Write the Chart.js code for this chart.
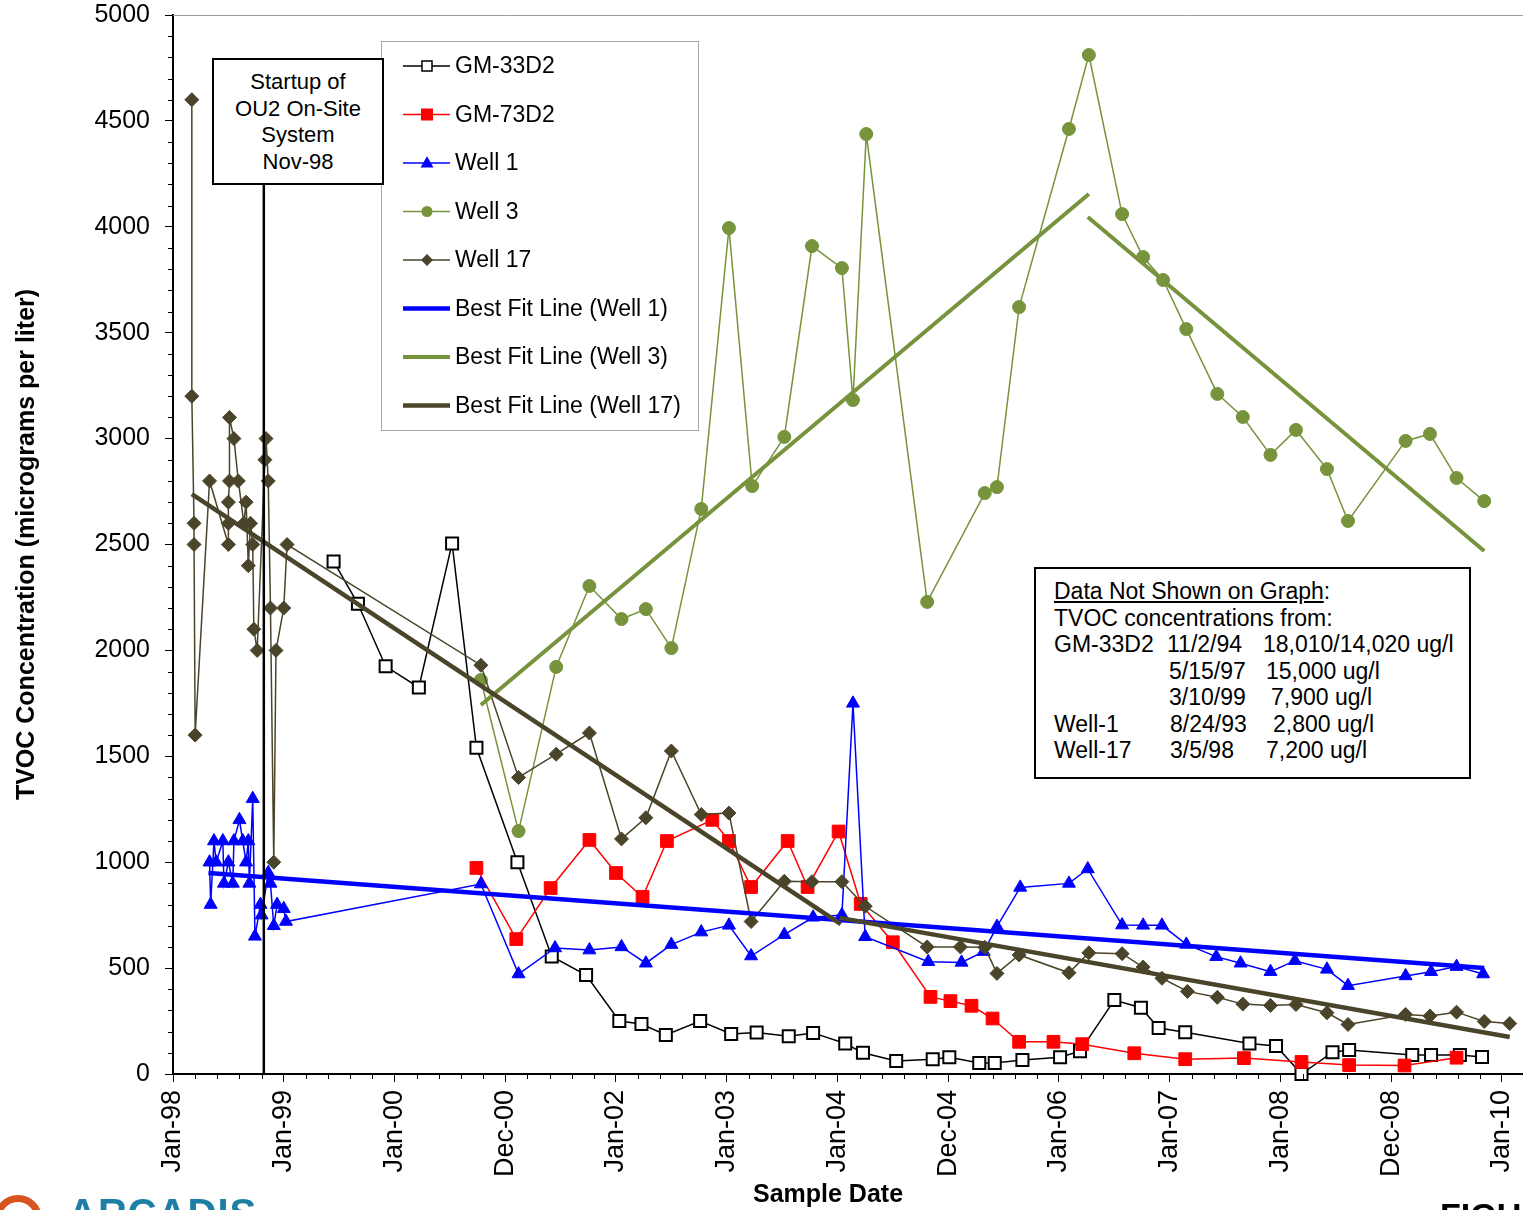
<!DOCTYPE html>
<html>
<head>
<meta charset="utf-8">
<title>TVOC Concentration vs Sample Date</title>
<script src="https://cdn.jsdelivr.net/npm/chart.js@4.4.1/dist/chart.umd.min.js"></script>
<style>
  html, body { margin: 0; padding: 0; background: #fff; overflow: hidden; }
  #wrap { position: relative; width: 1523px; height: 1210px; overflow: hidden; font-family: "Liberation Sans", Arial, sans-serif; color: #000; }
  #chart { position: absolute; left: 0; top: 0; }
  .note { position: absolute; background: #fff; border: 2px solid #000; box-sizing: border-box; }
  #startup { left: 212px; top: 58px; width: 172px; height: 127px; font-size: 22px; line-height: 26.7px; text-align: center; padding-top: 9px; }
  #missing { left: 1034px; top: 567px; width: 437px; height: 212px; font-size: 23px; line-height: 26.5px; padding: 9px 0 0 18px; }
  #missing .row { position: relative; height: 26.5px; white-space: nowrap; }
  #missing .row span { position: absolute; top: 0; }
  .logo-arc { position: absolute; left: -6px; top: 1195px; width: 48px; height: 48px; border-radius: 50%; border: 7px solid #d9531e; box-sizing: border-box; }
  .logo-text { position: absolute; left: 68px; top: 1191px; font-size: 40px; font-weight: bold; color: #1d7fa3; letter-spacing: 1px; }
  .fig-text { position: absolute; left: 1440px; top: 1196px; font-size: 34px; font-weight: bold; color: #000; }
</style>
</head>
<body>
<div id="wrap">
  <canvas id="chart"></canvas>
  <div class="note" id="startup">Startup of<br>OU2 On-Site<br>System<br>Nov-98</div>
  <div class="note" id="missing">
    <div class="row"><span style="left:0"><u>Data Not Shown on Graph</u>:</span></div>
    <div class="row"><span style="left:0">TVOC concentrations from:</span></div>
    <div class="row"><span style="left:0">GM-33D2</span><span style="left:113px">11/2/94</span><span style="left:209px">18,010/14,020 ug/l</span></div>
    <div class="row"><span style="left:115px">5/15/97</span><span style="left:212px">15,000 ug/l</span></div>
    <div class="row"><span style="left:115px">3/10/99</span><span style="left:217px">7,900 ug/l</span></div>
    <div class="row"><span style="left:0">Well-1</span><span style="left:116px">8/24/93</span><span style="left:219px">2,800 ug/l</span></div>
    <div class="row"><span style="left:0">Well-17</span><span style="left:116px">3/5/98</span><span style="left:212px">7,200 ug/l</span></div>
  </div>
  <div class="logo-arc"></div>
  <div class="logo-text">ARCADIS</div>
  <div class="fig-text">FIGURE</div>
</div>
<script>
// x axis: decimal years, ticks every 365 days as in the original
const tickYears = [1998, 1999, 2000, 2001, 2002, 2003, 2004, 2005, 2006, 2007, 2008, 2009, 2010];
const tickLabels = ['Jan-98', 'Jan-99', 'Jan-00', 'Dec-00', 'Jan-02', 'Jan-03', 'Jan-04',
                    'Dec-04', 'Jan-06', 'Jan-07', 'Jan-08', 'Dec-08', 'Jan-10'];
const startupDate = 1998.82;

const gm33Dates = [1999.45, 1999.67, 1999.92, 2000.22, 2000.52, 2000.74, 2001.11, 2001.42, 2001.73, 2002.03,
                   2002.23, 2002.45, 2002.76, 2003.04, 2003.27, 2003.56, 2003.78, 2004.07, 2004.23, 2004.53,
                   2004.86, 2005.01, 2005.28, 2005.42, 2005.67, 2006.01, 2006.19, 2006.50, 2006.74, 2006.90,
                   2007.14, 2007.72, 2007.96, 2008.19, 2008.47, 2008.62, 2009.19, 2009.36, 2009.62, 2009.82];
const gm33Values = [2420, 2220, 1925, 1825, 2505, 1540, 1000, 555, 467, 250,
                    236, 184, 250, 189, 196, 178, 194, 144, 100, 61,
                    70, 79, 52, 52, 66, 79, 108, 349, 313, 217,
                    197, 144, 132, 0, 103, 113, 90, 90, 90, 80];

const gm73Dates = [2000.74, 2001.10, 2001.41, 2001.76, 2002.00, 2002.24, 2002.46, 2002.87, 2003.02, 2003.22,
                   2003.55, 2003.73, 2004.01, 2004.21, 2004.50, 2004.84, 2005.02, 2005.21, 2005.40, 2005.64,
                   2005.95, 2006.21, 2006.68, 2007.14, 2007.67, 2008.19, 2008.62, 2009.12, 2009.59];
const gm73Values = [973, 637, 878, 1105, 949, 836, 1100, 1200, 1100, 883,
                    1100, 883, 1145, 803, 622, 364, 344, 322, 262, 152,
                    152, 141, 98, 70, 75, 57, 42, 40, 77];

const well1Dates = [1998.33, 1998.34, 1998.37, 1998.39, 1998.45, 1998.46, 1998.50, 1998.54, 1998.55, 1998.60,
                    1998.63, 1998.66, 1998.68, 1998.69, 1998.72, 1998.74, 1998.79, 1998.80, 1998.86, 1998.88,
                    1998.91, 1998.94, 1999.00, 1999.02,
                    2000.78, 2001.12, 2001.45, 2001.76, 2002.05, 2002.27, 2002.50, 2002.77, 2003.02, 2003.22,
                    2003.52, 2003.78, 2004.04, 2004.14, 2004.25, 2004.82, 2005.12, 2005.32, 2005.44, 2005.65,
                    2006.09, 2006.26, 2006.57, 2006.76, 2006.93, 2007.15, 2007.42, 2007.64, 2007.91, 2008.13,
                    2008.42, 2008.61, 2009.13, 2009.36, 2009.59, 2009.83];
const well1Values = [1000, 800, 1100, 1000, 1100, 900, 1000, 900, 1100, 1200,
                     1100, 1000, 1100, 900, 1300, 650, 800, 750, 950, 900,
                     700, 800, 780, 720,
                     897, 472, 595, 585, 600, 523, 611, 670, 702, 557,
                     658, 740, 751, 1750, 648, 530, 527, 578, 696, 881,
                     900, 968, 703, 702, 702, 612, 554, 523, 483, 535,
                     494, 417, 463, 483, 507, 472];

const well3Dates = [2000.78, 2001.12, 2001.46, 2001.76, 2002.05, 2002.27, 2002.50, 2002.77, 2003.02, 2003.23,
                    2003.52, 2003.77, 2004.04, 2004.14, 2004.26, 2004.81, 2005.33, 2005.44, 2005.64, 2006.09,
                    2006.27, 2006.57, 2006.76, 2006.94, 2007.15, 2007.43, 2007.66, 2007.91, 2008.14, 2008.42,
                    2008.61, 2009.13, 2009.35, 2009.59, 2009.84];
const well3Values = [1860, 1147, 1922, 2304, 2148, 2195, 2011, 2668, 3994, 2776,
                     3008, 3909, 3805, 3182, 4438, 2229, 2743, 2771, 3621, 4462,
                     4811, 4060, 3857, 3749, 3517, 3211, 3102, 2923, 3041, 2856,
                     2611, 2989, 3022, 2814, 2705];

const well17Dates = [1998.17, 1998.17, 1998.19, 1998.19, 1998.20, 1998.33, 1998.50, 1998.50, 1998.50, 1998.51,
                     1998.51, 1998.55, 1998.59, 1998.64, 1998.66, 1998.68, 1998.70, 1998.72, 1998.73, 1998.76,
                     1998.83, 1998.84, 1998.86, 1998.88, 1998.91, 1998.93, 1999.00, 1999.03,
                     2000.78, 2001.12, 2001.46, 2001.76, 2002.05, 2002.27, 2002.50, 2002.77, 2003.02, 2003.22,
                     2003.52, 2003.77, 2004.04, 2004.25, 2004.81, 2005.11, 2005.33, 2005.44, 2005.64, 2006.09,
                     2006.27, 2006.57, 2006.76, 2006.93, 2007.16, 2007.43, 2007.66, 2007.91, 2008.14, 2008.42,
                     2008.61, 2009.13, 2009.35, 2009.59, 2009.84, 2010.07];
const well17Values = [4600, 3200, 2600, 2500, 1600, 2800, 2500, 2600, 2700, 2800,
                      3100, 3000, 2800, 2600, 2700, 2400, 2600, 2500, 2100, 2000,
                      2900, 3000, 2800, 2200, 1000, 2000, 2200, 2500,
                      1930, 1400, 1510, 1610, 1110, 1210, 1525, 1225, 1232, 720,
                      910, 908, 908, 792, 600, 600, 598, 475, 562, 478,
                      572, 568, 505, 452, 390, 362, 330, 324, 328, 289,
                      234, 281, 274, 292, 248, 238];

// best fit lines (null breaks the line into its two pieces)
const fit1Dates = [1998.32, 2009.84];
const fit1Values = [949, 500];
const fit3Dates = [2000.78, 2006.27, 2006.265, 2006.26, 2009.84];
const fit3Values = [1742, 4155, null, 4046, 2469];
const fit17Dates = [1998.17, 2004.03, 2004.025, 2004.02, 2010.07];
const fit17Values = [2738, 708, null, 737, 175];

const COLORS = {
    gm33: '#000000',
    gm73: '#ff0000',
    well1: '#0000ff',
    well3: '#77933c',
    well17: '#4a452a'
};

const FONT = '"Liberation Sans", Arial, sans-serif';

function toPoints(dates, values) {
    return dates.map((d, i) => ({ x: d, y: values[i] }));
}

function drawMark(ctx, style, cx, cy, r, fill, stroke, lw) {
    ctx.beginPath();
    if (style === 'rect') {
        ctx.rect(cx - r, cy - r, 2 * r, 2 * r);
    } else if (style === 'triangle') {
        const h = r * 1.75;
        ctx.moveTo(cx, cy - h * 0.6);
        ctx.lineTo(cx + r, cy + h * 0.4);
        ctx.lineTo(cx - r, cy + h * 0.4);
        ctx.closePath();
    } else if (style === 'circle') {
        ctx.arc(cx, cy, r, 0, Math.PI * 2);
    } else if (style === 'rectRot') {
        ctx.moveTo(cx, cy - r);
        ctx.lineTo(cx + r, cy);
        ctx.lineTo(cx, cy + r);
        ctx.lineTo(cx - r, cy);
        ctx.closePath();
    }
    ctx.fillStyle = fill;
    ctx.fill();
    if (lw) {
        ctx.lineWidth = lw;
        ctx.strokeStyle = stroke;
        ctx.stroke();
    }
}

// legend marker sizes (legend is drawn by hand inside the plot)
const legendMarks = [
    { style: 'rect', r: 5, fill: '#fff', lw: 1.5 },
    { style: 'rect', r: 6, fill: null, lw: 0 },
    { style: 'triangle', r: 6.5, fill: null, lw: 0 },
    { style: 'circle', r: 5.5, fill: null, lw: 0 },
    { style: 'rectRot', r: 6, fill: null, lw: 0 },
    null, null, null
];

const chartExtras = {
    id: 'chartExtras',
    afterDraw(chart) {
        const { ctx, chartArea, scales: { x, y } } = chart;
        ctx.save();

        // plot area top border
        ctx.strokeStyle = '#9c9c9c';
        ctx.lineWidth = 1;
        ctx.beginPath();
        ctx.moveTo(chartArea.left, chartArea.top + 0.5);
        ctx.lineTo(chartArea.right, chartArea.top + 0.5);
        ctx.stroke();

        // minor ticks
        ctx.strokeStyle = '#000';
        ctx.lineWidth = 1;
        ctx.beginPath();
        for (let v = 100; v < 5000; v += 100) {
            if (v % 500 === 0) continue;
            const py = Math.round(y.getPixelForValue(v)) + 0.5;
            ctx.moveTo(chartArea.left - 5, py);
            ctx.lineTo(chartArea.left, py);
        }
        for (let k = 1; k < 62; k++) {
            if (k % 5 === 0) continue;
            const px = Math.round(x.getPixelForValue(1998 + k * 0.2)) + 0.5;
            if (px > chartArea.right) break;
            ctx.moveTo(px, chartArea.bottom);
            ctx.lineTo(px, chartArea.bottom + 5);
        }
        ctx.stroke();

        // startup marker line
        const sx = x.getPixelForValue(startupDate);
        ctx.strokeStyle = '#000';
        ctx.lineWidth = 2.5;
        ctx.beginPath();
        ctx.moveTo(sx, 184);
        ctx.lineTo(sx, chartArea.bottom);
        ctx.stroke();

        // x axis title, centred the way the original sits
        ctx.fillStyle = '#000';
        ctx.font = 'bold 25px ' + FONT;
        ctx.textAlign = 'center';
        ctx.textBaseline = 'middle';
        ctx.fillText('Sample Date', 828, 1195);

        // legend
        const boxX = 381.5, boxY = 41.5, boxW = 317, boxH = 389;
        ctx.fillStyle = '#fff';
        ctx.fillRect(boxX, boxY, boxW, boxH);
        ctx.strokeStyle = '#a6a6a6';
        ctx.lineWidth = 1;
        ctx.strokeRect(boxX, boxY, boxW, boxH);
        ctx.font = '23px ' + FONT;
        ctx.textAlign = 'left';
        ctx.textBaseline = 'middle';
        chart.data.datasets.forEach((ds, i) => {
            const ly = 66 + i * 48.5;
            ctx.strokeStyle = ds.borderColor;
            ctx.lineWidth = ds.borderWidth;
            ctx.beginPath();
            ctx.moveTo(403, ly);
            ctx.lineTo(450, ly);
            ctx.stroke();
            const m = legendMarks[i];
            if (m) {
                drawMark(ctx, m.style, 427, ly, m.r, m.fill || ds.borderColor, ds.borderColor, m.lw);
            }
            ctx.fillStyle = '#000';
            ctx.fillText(ds.label, 455, ly + 1);
        });

        ctx.restore();
    }
};

function buildDatasets() {
    const line = (label, dates, values, color, extra) => Object.assign({
        label: label,
        data: toPoints(dates, values),
        borderColor: color,
        backgroundColor: color,
        borderWidth: 1.5,
        pointBackgroundColor: color,
        pointBorderColor: color,
        pointBorderWidth: 1,
        spanGaps: false,
        clip: 12
    }, extra);

    return [
        line('GM-33D2', gm33Dates, gm33Values, COLORS.gm33,
             { pointStyle: 'rect', pointRadius: 8.5, pointBackgroundColor: '#fff', pointBorderWidth: 2, order: 8 }),
        line('GM-73D2', gm73Dates, gm73Values, COLORS.gm73,
             { pointStyle: 'rect', pointRadius: 9, order: 7 }),
        line('Well 1', well1Dates, well1Values, COLORS.well1,
             { pointStyle: 'triangle', pointRadius: 7.5, order: 6 }),
        line('Well 3', well3Dates, well3Values, COLORS.well3,
             { pointStyle: 'circle', pointRadius: 6.5, order: 5 }),
        line('Well 17', well17Dates, well17Values, COLORS.well17,
             { pointStyle: 'rectRot', pointRadius: 7, order: 4 }),
        line('Best Fit Line (Well 1)', fit1Dates, fit1Values, COLORS.well1,
             { borderWidth: 4.5, pointRadius: 0, order: 3 }),
        line('Best Fit Line (Well 3)', fit3Dates, fit3Values, COLORS.well3,
             { borderWidth: 4, pointRadius: 0, order: 2 }),
        line('Best Fit Line (Well 17)', fit17Dates, fit17Values, COLORS.well17,
             { borderWidth: 4.5, pointRadius: 0, order: 1 })
    ];
}

function initializeChart() {
    Chart.defaults.font.family = FONT;
    Chart.defaults.color = '#000';

    const canvas = document.getElementById('chart');
    canvas.width = 1523;
    canvas.height = 1210;

    new Chart(canvas.getContext('2d'), {
        type: 'line',
        data: { datasets: buildDatasets() },
        options: {
            responsive: false,
            animation: false,
            devicePixelRatio: 1,
            layout: { autoPadding: false, padding: { top: 15, right: 0, bottom: 0, left: 0 } },
            elements: { line: { tension: 0 } },
            plugins: {
                legend: { display: false },
                tooltip: { enabled: false }
            },
            scales: {
                x: {
                    type: 'linear',
                    min: 1998,
                    max: 2010.19,
                    afterBuildTicks: scale => {
                        scale.ticks = tickYears.map(v => ({ value: v }));
                    },
                    afterFit: scale => {
                        scale.height = 136;
                        scale.paddingLeft = 0;
                        scale.paddingRight = 0;
                    },
                    grid: { drawOnChartArea: false, tickLength: 8, color: '#000', lineWidth: 1 },
                    border: { color: '#000', width: 2 },
                    ticks: {
                        autoSkip: false,
                        minRotation: 90,
                        maxRotation: 90,
                        padding: 8,
                        font: { size: 27 },
                        callback: (value, index) => tickLabels[index]
                    },
                    title: { display: false }
                },
                y: {
                    min: 0,
                    max: 5000,
                    afterFit: scale => {
                        scale.width = 173;
                        scale.paddingTop = 0;
                        scale.paddingBottom = 0;
                    },
                    grid: { drawOnChartArea: false, tickLength: 8, color: '#000', lineWidth: 1 },
                    border: { color: '#000', width: 2 },
                    ticks: {
                        stepSize: 500,
                        padding: 15,
                        font: { size: 25 },
                        callback: value => String(value)
                    },
                    title: {
                        display: true,
                        text: 'TVOC Concentration (micrograms per liter)',
                        font: { size: 25, weight: 'bold' },
                        padding: { top: 12, bottom: 0 }
                    }
                }
            }
        },
        plugins: [chartExtras]
    });
}

document.addEventListener('DOMContentLoaded', initializeChart);
</script>
</body>
</html>
